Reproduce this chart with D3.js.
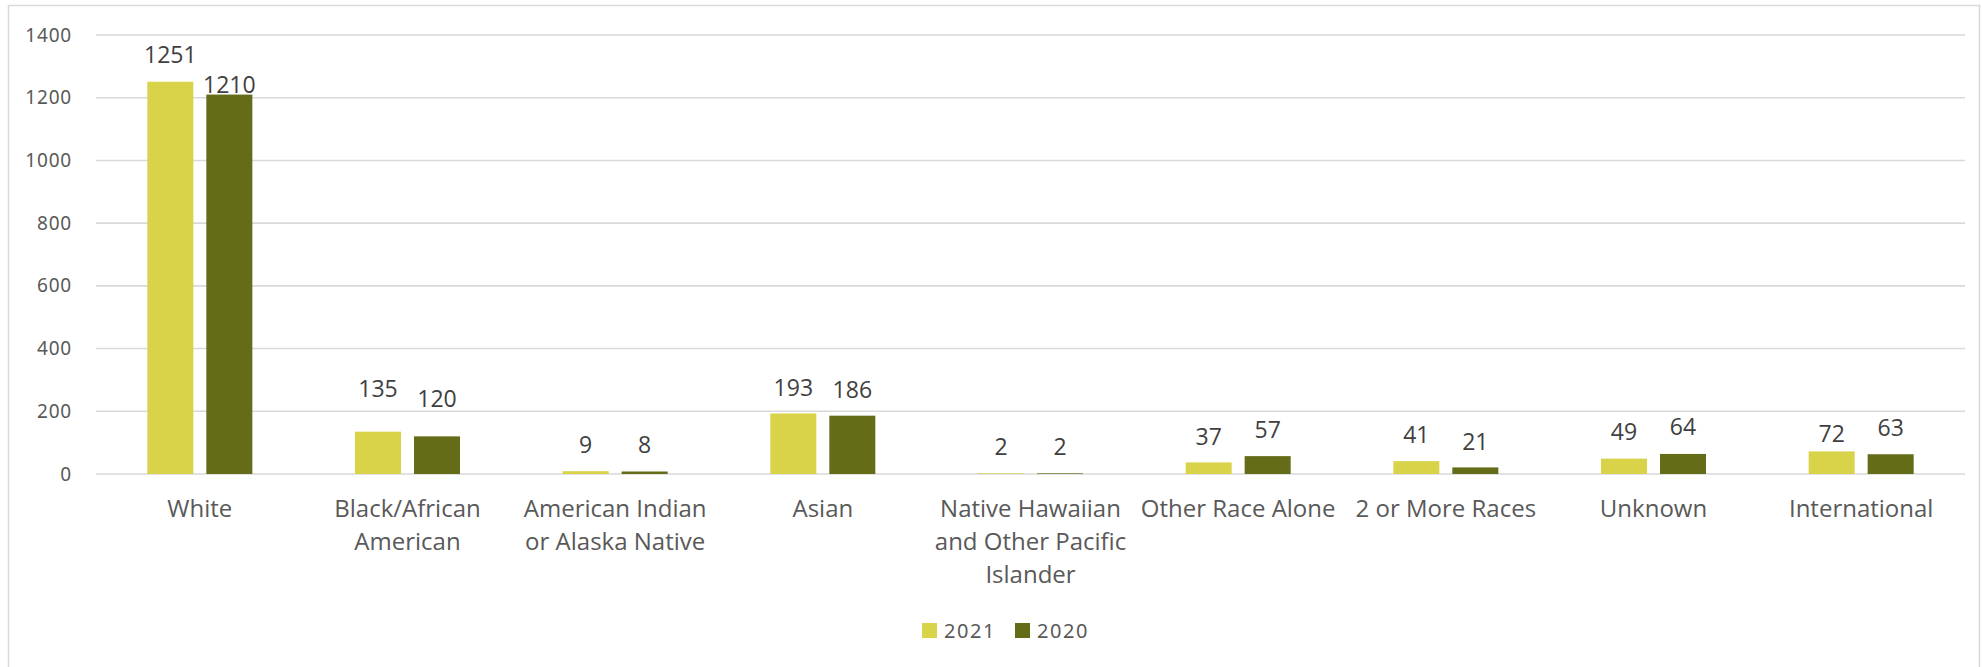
<!DOCTYPE html>
<html>
<head>
<meta charset="utf-8">
<script src="https://cdn.jsdelivr.net/npm/d3@7"></script>
<style>
  html, body { margin: 0; padding: 0; background: #fff; }
  svg { display: block; }
</style>
</head>
<body>
<svg id="chart" width="1982" height="667"></svg>
<script>
// ---- data ----
const categories = ["White", "Black/African American", "American Indian or Alaska Native", "Asian",
  "Native Hawaiian and Other Pacific Islander", "Other Race Alone", "2 or More Races", "Unknown", "International"];
const seriesNames = ["2021", "2020"];
const values2021 = [1251, 135, 9, 193, 2, 37, 41, 49, 72];
const values2020 = [1210, 120, 8, 186, 2, 57, 21, 64, 63];
const yTicks = [0, 200, 400, 600, 800, 1000, 1200, 1400];

// ---- presentation (label offsets above bar top, px) ----
const labelNudge = {
  "2021": [19, 35, 18, 17.5, 18, 17, 18, 19, 9.5],
  "2020": [1.5, 29, 18.5, 17.7, 18, 18, 17.4, 19, 18]
};
const colors = { "2021": "#D9D34A", "2020": "#646C17" };

const svg = d3.select("#chart");
const plotLeft = 96, plotRight = 1965, plotTop = 35, plotBottom = 474;

// frame
svg.append("rect").attr("x", 8.5).attr("y", 5.5).attr("width", 1971).attr("height", 700)
  .attr("fill", "none").attr("stroke", "#D9D9D9").attr("stroke-width", 1.5);

const x0 = d3.scaleBand().domain(categories).range([plotLeft, plotRight]).padding(0);
const x1 = d3.scaleBand().domain(seriesNames).range([0, x0.bandwidth()])
  .paddingInner(0.22).paddingOuter(0.87);
const y = d3.scaleLinear().domain([0, 1400]).range([plotBottom, plotTop]);

// gridlines
svg.append("g").selectAll("line").data(yTicks).join("line")
  .attr("x1", plotLeft).attr("x2", plotRight)
  .attr("y1", d => y(d)).attr("y2", d => y(d))
  .attr("stroke", "#D9D9D9").attr("stroke-width", 1.6);

// y axis labels
const yAxis = d3.axisLeft(y).tickValues(yTicks).tickFormat(d3.format("d")).tickSize(0).tickPadding(0);
const ya = svg.append("g").attr("transform", `translate(72,0)`).call(yAxis);
ya.select(".domain").remove();
ya.selectAll("text").attr("font-family", "'Noto Sans', sans-serif").attr("font-size", 19)
  .attr("fill", "#595959").attr("letter-spacing", 0.8);

const data = seriesNames.map(s => ({ name: s, values: s === "2021" ? values2021 : values2020 }));

// bars
const groups = svg.append("g").selectAll("g").data(data).join("g").attr("fill", d => colors[d.name]);
groups.selectAll("rect").data(d => d.values.map((v, i) => ({ s: d.name, v, i })))
  .join("rect")
  .attr("x", d => x0(categories[d.i]) + x1(d.s))
  .attr("width", x1.bandwidth())
  .attr("y", d => y(d.v))
  .attr("height", d => y(0) - y(d.v));

// value labels
groups.selectAll("text").data(d => d.values.map((v, i) => ({ s: d.name, v, i })))
  .join("text")
  .attr("x", d => x0(categories[d.i]) + x1(d.s) + x1.bandwidth() / 2)
  .attr("y", d => y(d.v) - labelNudge[d.s][d.i])
  .attr("text-anchor", "middle")
  .attr("font-family", "'Open Sans', sans-serif").attr("font-size", 23)
  .attr("fill", "#404040")
  .text(d => d.v);

// category labels with wrapping
const catG = svg.append("g");
const maxW = 200;
categories.forEach(c => {
  const cx = x0(c) + x0.bandwidth() / 2;
  const t = catG.append("text")
    .attr("x", cx).attr("y", 517)
    .attr("text-anchor", "middle")
    .attr("font-family", "'Open Sans', sans-serif").attr("font-size", 24)
    .attr("fill", "#595959");
  const words = c.split(" ");
  let line = [];
  let ts = t.append("tspan").attr("x", cx).attr("dy", 0);
  words.forEach(w => {
    line.push(w);
    ts.text(line.join(" "));
    if (ts.node().getComputedTextLength() > maxW && line.length > 1) {
      line.pop();
      ts.text(line.join(" "));
      line = [w];
      ts = t.append("tspan").attr("x", cx).attr("dy", 33).text(w);
    }
  });
});

// legend
const legend = svg.append("g");
const legendX = [922, 1015];
seriesNames.forEach((s, i) => {
  legend.append("rect").attr("x", legendX[i]).attr("y", 623).attr("width", 15).attr("height", 15)
    .attr("fill", colors[s]);
  legend.append("text").attr("x", legendX[i] + 22).attr("y", 638)
    .attr("font-family", "'Noto Sans', sans-serif").attr("font-size", 20)
    .attr("letter-spacing", 1.6).attr("fill", "#595959").text(s);
});
</script>
</body>
</html>
